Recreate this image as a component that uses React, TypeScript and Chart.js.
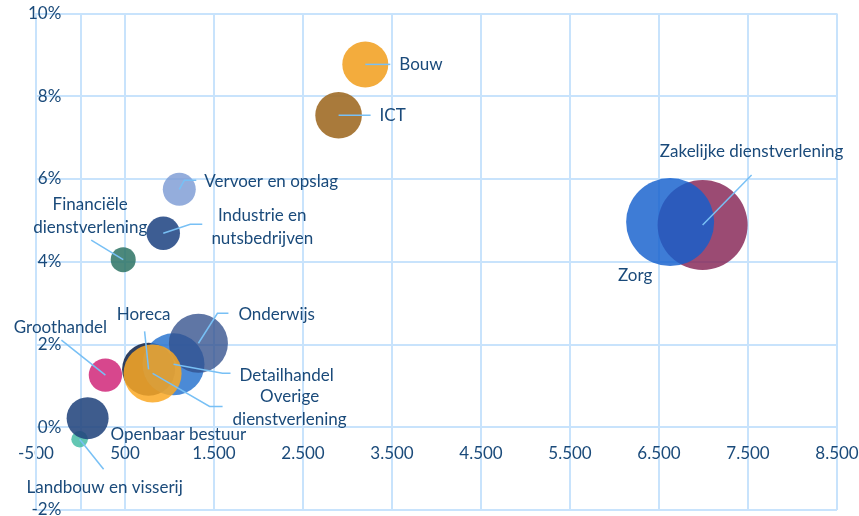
import React, { useEffect, useRef } from 'react';
import { Chart, registerables, BubbleController } from 'chart.js';

Chart.register(...registerables);

// Bubble controller without the automatic overflow padding, so the plot area
// can run to the edges like the original.
class FlatBubbleController extends BubbleController {
  getMaxOverflow() {
    return 0 as any;
  }
}
(FlatBubbleController as any).id = 'flatBubble';
(FlatBubbleController as any).defaults = (BubbleController as any).defaults;
(FlatBubbleController as any).overrides = (BubbleController as any).overrides;
Chart.register(FlatBubbleController as any);

// ---- data ----
const categories = [
  'Landbouw en visserij',
  'Openbaar bestuur',
  'Groothandel',
  'Financiële dienstverlening',
  'Industrie en nutsbedrijven',
  'Vervoer en opslag',
  'Horeca',
  'Detailhandel',
  'Onderwijs',
  'Overige dienstverlening',
  'ICT',
  'Bouw',
  'Zakelijke dienstverlening',
  'Zorg',
];
const xValues = [-10, 80, 280, 480, 930, 1110, 765, 1045, 1325, 810, 2900, 3200, 6990, 6625];
const yValues = [-0.29, 0.22, 1.26, 4.05, 4.69, 5.75, 1.4, 1.52, 2.03, 1.3, 7.54, 8.77, 4.89, 4.96];
const bubbleRadius = [8.3, 21, 16.7, 12.5, 16.7, 16.5, 26.5, 31, 29.5, 29, 23.3, 23, 45, 44];
const xTicks = [-500, 0, 500, 1500, 2500, 3500, 4500, 5500, 6500, 7500, 8500];
const yTicks = [-2, 0, 2, 4, 6, 8, 10];

// ---- styles ----
const bubbleColors = [
  'rgba(60,185,160,0.8)',
  'rgba(35,70,125,0.88)',
  'rgba(210,45,125,0.88)',
  'rgba(45,115,100,0.85)',
  'rgba(40,75,135,0.9)',
  'rgba(125,155,212,0.82)',
  'rgba(30,48,82,0.92)',
  'rgba(35,112,205,0.82)',
  'rgba(50,80,140,0.78)',
  'rgba(250,168,35,0.85)',
  'rgba(160,108,38,0.9)',
  'rgba(242,163,40,0.9)',
  'rgba(130,30,80,0.8)',
  'rgba(20,95,205,0.82)',
];
const TEXT = '#1A4A7A';
const GRID = '#C8E3FC';
const LEADER = '#78C0F5';
const FONT = 'Lato';
const FONT_SIZE = 17;

type Layout = { dx: number; dy: number; align: CanvasTextAlign; lines: string[]; leader?: number[][] };
const labelLayout: Layout[] = [
  { dx: 25, dy: 48, align: 'center', lines: ['Landbouw en visserij'], leader: [[0, 0], [24, 30]] },
  { dx: 23, dy: 16, align: 'left', lines: ['Openbaar bestuur'] },
  { dx: -45, dy: -48, align: 'center', lines: ['Groothandel'], leader: [[0, 0], [-44, -35]] },
  { dx: -33, dy: -55.5, align: 'center', lines: ['Financiële', 'dienstverlening'], leader: [[0, 0], [-32, -19.5]] },
  { dx: 99, dy: -18, align: 'center', lines: ['Industrie en', 'nutsbedrijven'], leader: [[0, 0], [27, -9], [39, -9]] },
  { dx: 25, dy: -8, align: 'left', lines: ['Vervoer en opslag'], leader: [[0, 0], [5, -9], [17, -9]] },
  { dx: -5, dy: -55, align: 'center', lines: ['Horeca'], leader: [[0, 0], [-4, -38]] },
  { dx: 66, dy: 11, align: 'left', lines: ['Detailhandel'], leader: [[0, 0], [49, 9], [57, 9]] },
  { dx: 40, dy: -29, align: 'left', lines: ['Onderwijs'], leader: [[0, 0], [19, -30], [30, -30]] },
  { dx: 137, dy: 23, align: 'center', lines: ['Overige', 'dienstverlening'], leader: [[0, 0], [57, 33], [70, 33]] },
  { dx: 41, dy: 0, align: 'left', lines: ['ICT'], leader: [[0, 0], [32, 0]] },
  { dx: 34, dy: 0, align: 'left', lines: ['Bouw'], leader: [[0, 0], [25, 0]] },
  { dx: 49, dy: -73, align: 'center', lines: ['Zakelijke dienstverlening'], leader: [[0, 0], [49, -50]] },
  { dx: -35, dy: 53, align: 'center', lines: ['Zorg'] },
];

function fmtThousands(v: number): string {
  const s = Math.abs(v).toString().replace(/\B(?=(\d{3})+(?!\d))/g, '.');
  return (v < 0 ? '-' : '') + s;
}

const labelPlugin = {
  id: 'bubbleLabels',
  afterDatasetsDraw(chart: any) {
    const ctx = chart.ctx as CanvasRenderingContext2D;
    const xs = chart.scales.x;
    const ys = chart.scales.y;
    ctx.save();
    ctx.strokeStyle = LEADER;
    ctx.lineWidth = 1.5;
    categories.forEach((_, i) => {
      const L = labelLayout[i];
      if (!L.leader) return;
      const cx = xs.getPixelForValue(xValues[i]);
      const cy = ys.getPixelForValue(yValues[i]);
      ctx.beginPath();
      L.leader.forEach((p, j) => {
        if (j === 0) ctx.moveTo(cx + p[0], cy + p[1]);
        else ctx.lineTo(cx + p[0], cy + p[1]);
      });
      ctx.stroke();
    });
    ctx.fillStyle = TEXT;
    ctx.font = `${FONT_SIZE}px ${FONT}`;
    ctx.textBaseline = 'middle';
    categories.forEach((_, i) => {
      const L = labelLayout[i];
      const cx = xs.getPixelForValue(xValues[i]);
      const cy = ys.getPixelForValue(yValues[i]);
      ctx.textAlign = L.align;
      L.lines.forEach((line, k) => {
        ctx.fillText(line, cx + L.dx, cy + L.dy + k * 23);
      });
    });
    ctx.restore();
  },
};

export default function App() {
  const ref = useRef<HTMLCanvasElement | null>(null);
  useEffect(() => {
    if (!ref.current) return;
    const chart = new Chart(ref.current, {
      type: 'flatBubble' as any,
      data: {
        datasets: [
          {
            label: 'Sectoren',
            data: categories.map((_, i) => ({ x: xValues[i], y: yValues[i], r: bubbleRadius[i] })),
            backgroundColor: bubbleColors,
            borderWidth: 0,
            hoverBorderWidth: 0,
          },
        ],
      },
      options: {
        animation: false,
        responsive: false,
        devicePixelRatio: 1,
        events: [],
        layout: { padding: { left: 36, top: 13.5, right: 22, bottom: 6 } },
        plugins: { legend: { display: false }, tooltip: { enabled: false } },
        scales: {
          x: {
            type: 'linear',
            position: { y: 0 } as any,
            min: -500,
            max: 8500,
            afterBuildTicks: (scale: any) => {
              scale.ticks = xTicks.map((v) => ({ value: v }));
            },
            afterFit: (scale: any) => {
              scale.paddingLeft = 0;
              scale.paddingRight = 0;
              scale.paddingTop = 0;
              scale.paddingBottom = 0;
            },
            grid: { color: GRID, lineWidth: 2, drawTicks: false },
            border: { color: GRID, width: 2 },
            ticks: {
              autoSkip: false,
              maxRotation: 0,
              padding: 16,
              color: TEXT,
              font: { family: FONT, size: FONT_SIZE },
              callback: (v: any) => (Number(v) === 0 ? '' : fmtThousands(Number(v))),
            },
          },
          y: {
            type: 'linear',
            position: 'left',
            min: -2,
            max: 10,
            afterBuildTicks: (scale: any) => {
              scale.ticks = yTicks.map((v) => ({ value: v }));
            },
            afterFit: (scale: any) => {
              scale.width = 0;
              scale.paddingLeft = 0;
              scale.paddingRight = 0;
              scale.paddingTop = 0;
              scale.paddingBottom = 0;
            },
            grid: { color: GRID, lineWidth: 2, drawTicks: false },
            border: { color: GRID, width: 2 },
            ticks: {
              mirror: true,
              crossAlign: 'far',
              padding: -8,
              color: TEXT,
              font: { family: FONT, size: FONT_SIZE },
              callback: (v: any) => `${v}%`,
            },
          },
        },
      },
      plugins: [labelPlugin],
    });
    return () => chart.destroy();
  }, []);
  return (
    <div style={{ position: 'absolute', left: 0, top: 0, width: 859, height: 516, background: '#fff' }}>
      <canvas ref={ref} width={859} height={516} style={{ display: 'block' }} />
    </div>
  );
}
